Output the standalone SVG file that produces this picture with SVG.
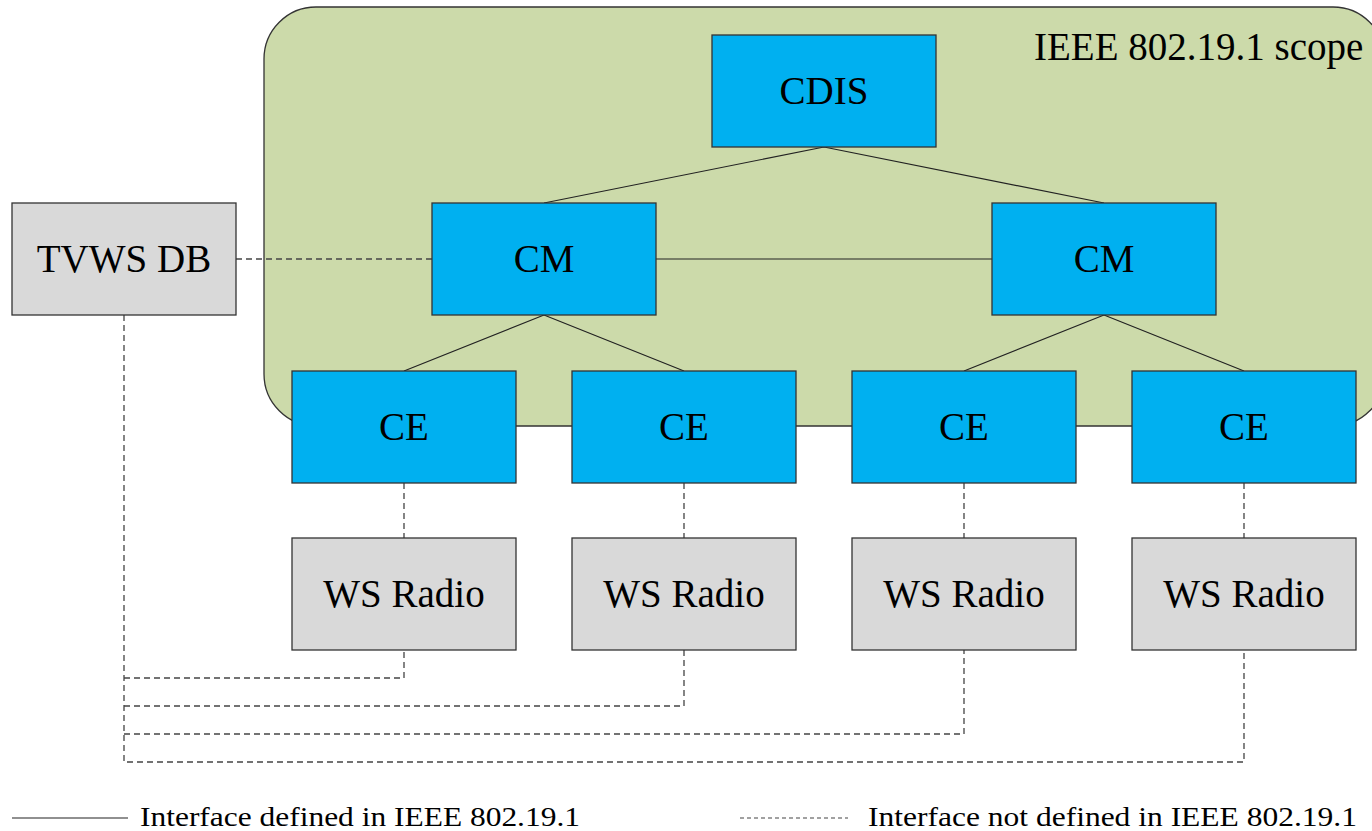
<svg xmlns="http://www.w3.org/2000/svg" width="1372" height="831" viewBox="0 0 1372 831">
<style>
.blue{fill:#00B0F0;stroke:#333;stroke-width:1.3}
.grey{fill:#D9D9D9;stroke:#333;stroke-width:1.3}
.lbl{font-family:'Liberation Serif','Times New Roman',Times,'DejaVu Serif',serif;font-size:39px;fill:#000;text-anchor:middle}
.solid{stroke:#222;stroke-width:1.2;fill:none}
.dash{stroke:#444;stroke-width:1.3;fill:none;stroke-dasharray:6 4}
.leg{font-family:'Liberation Serif','Times New Roman',Times,'DejaVu Serif',serif;font-size:28px;fill:#000}
</style>
<rect width="1372" height="831" fill="#fff"/>
<g id="scope">
<rect x="264" y="7" width="1121" height="419" rx="52" ry="52" fill="#CCDAAA" stroke="#333" stroke-width="1.3"/>
<text x="1034" y="60" font-family="Liberation Serif, Times New Roman, Times, DejaVu Serif, serif" font-size="39">IEEE 802.19.1 scope</text>
</g>
<g id="connectors">
<path class="solid" d="M824 147L544 203M824 147L1104 203M656 259H992M544 315L404 371M544 315L684 371M1104 315L964 371M1104 315L1244 371"/>
<path class="dash" d="M236 259H432M404 483V538M684 483V538M964 483V538M1244 483V538"/>
<path class="dash" d="M124 315V762H1244V650M124 734H964V650M124 706H684V650M124 678H404V650"/>
</g>
<g id="cdis"><rect class="blue" x="712" y="35" width="224" height="112"/><text class="lbl" x="824" y="104">CDIS</text></g>
<g id="cm1"><rect class="blue" x="432" y="203" width="224" height="112"/><text class="lbl" x="544" y="272">CM</text></g>
<g id="cm2"><rect class="blue" x="992" y="203" width="224" height="112"/><text class="lbl" x="1104" y="272">CM</text></g>
<g id="tvws"><rect class="grey" x="12" y="203" width="224" height="112"/><text class="lbl" x="124" y="272">TVWS DB</text></g>
<g id="ce1"><rect class="blue" x="292" y="371" width="224" height="112"/><text class="lbl" x="404" y="440">CE</text></g>
<g id="ce2"><rect class="blue" x="572" y="371" width="224" height="112"/><text class="lbl" x="684" y="440">CE</text></g>
<g id="ce3"><rect class="blue" x="852" y="371" width="224" height="112"/><text class="lbl" x="964" y="440">CE</text></g>
<g id="ce4"><rect class="blue" x="1132" y="371" width="224" height="112"/><text class="lbl" x="1244" y="440">CE</text></g>
<g id="ws1"><rect class="grey" x="292" y="538" width="224" height="112"/><text class="lbl" x="404" y="607">WS Radio</text></g>
<g id="ws2"><rect class="grey" x="572" y="538" width="224" height="112"/><text class="lbl" x="684" y="607">WS Radio</text></g>
<g id="ws3"><rect class="grey" x="852" y="538" width="224" height="112"/><text class="lbl" x="964" y="607">WS Radio</text></g>
<g id="ws4"><rect class="grey" x="1132" y="538" width="224" height="112"/><text class="lbl" x="1244" y="607">WS Radio</text></g>
<g id="legend">
<path class="solid" d="M12 818H128"/>
<text class="leg" x="140" y="826" textLength="440" lengthAdjust="spacingAndGlyphs">Interface defined in IEEE 802.19.1</text>
<path stroke="#444" stroke-width="1.2" stroke-dasharray="4 3" d="M740 818H848"/>
<text class="leg" x="868" y="826" textLength="489" lengthAdjust="spacingAndGlyphs">Interface not defined in IEEE 802.19.1</text>
</g>
</svg>
